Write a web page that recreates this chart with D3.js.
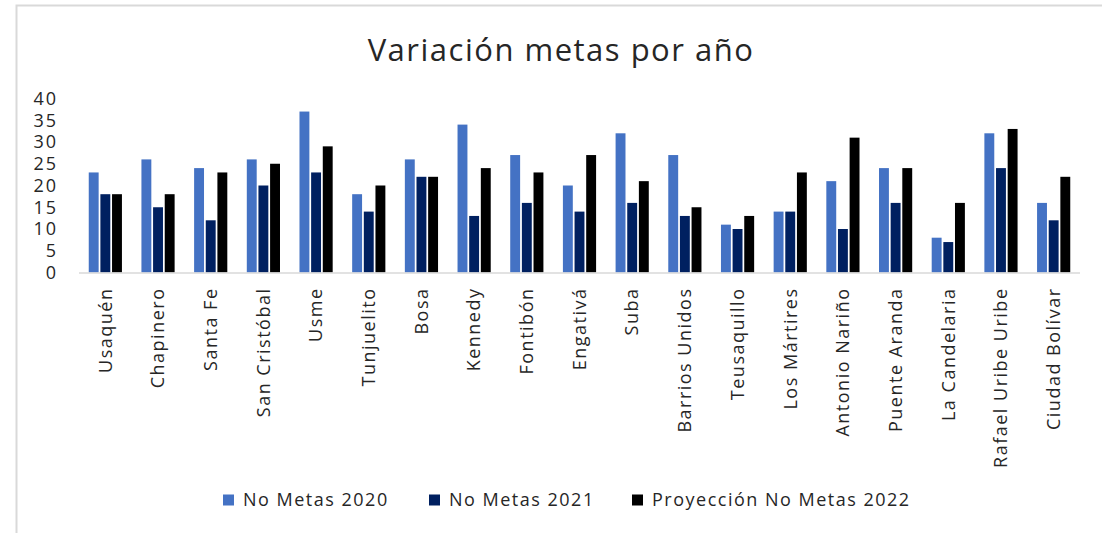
<!DOCTYPE html>
<html>
<head>
<meta charset="utf-8">
<script src="https://cdn.jsdelivr.net/npm/d3@7"></script>
<style>
  html, body { margin: 0; padding: 0; background: #fff; }
  svg text { font-family: "Open Sans", "Noto Sans", sans-serif; fill: #262626; }
</style>
</head>
<body>
<svg id="chart" width="1102" height="533"></svg>
<script>
// Localidades
const categories = [
  "Usaquén", "Chapinero", "Santa Fe", "San Cristóbal", "Usme", "Tunjuelito",
  "Bosa", "Kennedy", "Fontibón", "Engativá", "Suba", "Barrios Unidos",
  "Teusaquillo", "Los Mártires", "Antonio Nariño", "Puente Aranda",
  "La Candelaria", "Rafael Uribe Uribe", "Ciudad Bolívar"
];
const seriesNames = ["No Metas 2020", "No Metas 2021", "Proyección No Metas 2022"];
const metas2020 = [23, 26, 24, 26, 37, 18, 26, 34, 27, 20, 32, 27, 11, 14, 21, 24, 8, 32, 16];
const metas2021 = [18, 15, 12, 20, 23, 14, 22, 13, 16, 14, 16, 13, 10, 14, 10, 16, 7, 24, 12];
const metas2022 = [18, 18, 23, 25, 29, 20, 22, 24, 23, 27, 21, 15, 13, 23, 31, 24, 16, 33, 22];
const yTicks = [0, 5, 10, 15, 20, 25, 30, 35, 40];
const colors = ["#4472c4", "#002060", "#000000"];

const series = [metas2020, metas2021, metas2022];
const svg = d3.select("#chart");

// chart frame
svg.append("rect")
  .attr("x", 16.5).attr("y", 5.5)
  .attr("width", 1200).attr("height", 600)
  .attr("fill", "none").attr("stroke", "#d9d9d9").attr("stroke-width", 2);

// title
svg.append("text")
  .attr("x", 561).attr("y", 61)
  .attr("text-anchor", "middle")
  .style("font-size", "31px")
  .style("letter-spacing", "1.5px")
  .text("Variación metas por año");

const plot = { left: 79, right: 1080, top: 98.5, bottom: 272.5 };

const x0 = d3.scaleBand().domain(categories)
  .range([plot.left, plot.right]).paddingInner(0.37).paddingOuter(0.185);
const x1 = d3.scaleBand().domain(d3.range(series.length))
  .range([0, x0.bandwidth()]).paddingInner(0.15);
const y = d3.scaleLinear().domain([0, 40]).range([plot.bottom, plot.top]);

// bars
const groups = svg.append("g").selectAll("g")
  .data(categories)
  .join("g")
  .attr("transform", d => `translate(${x0(d)},0)`);

groups.selectAll("rect")
  .data((d, i) => series.map((s, k) => ({ k, v: s[i] })))
  .join("rect")
  .attr("x", d => x1(d.k))
  .attr("width", x1.bandwidth())
  .attr("y", d => y(d.v))
  .attr("height", d => y(0) - y(d.v))
  .attr("fill", d => colors[d.k]);

// baseline
svg.append("line")
  .attr("x1", plot.left).attr("x2", plot.right)
  .attr("y1", y(0) + 0.5).attr("y2", y(0) + 0.5)
  .attr("stroke", "#d9d9d9").attr("stroke-width", 1.5);

// y axis labels
const yAxis = d3.axisLeft(y).tickValues(yTicks).tickSize(0).tickPadding(21);
const gy = svg.append("g").attr("transform", `translate(${plot.left},0)`).call(yAxis);
gy.select(".domain").remove();
gy.selectAll("text")
  .style("font-size", "18px").style("font-family", null).style("letter-spacing", "2px")
  .attr("fill", "#262626");

// x axis labels, rotated
const xAxis = d3.axisBottom(x0).tickSize(0).tickPadding(0);
const gx = svg.append("g").attr("transform", `translate(0,${plot.bottom})`).call(xAxis);
gx.select(".domain").remove();
gx.selectAll("text")
  .style("font-size", "18px").style("font-family", null).style("letter-spacing", "1.5px")
  .attr("fill", "#262626")
  .attr("text-anchor", "end")
  .attr("transform", "rotate(-90)")
  .attr("x", -15).attr("y", 0).attr("dy", "0.35em");

// legend
const legendX = [223, 429, 632];
const legend = svg.append("g").selectAll("g")
  .data(seriesNames)
  .join("g")
  .attr("transform", (d, i) => `translate(${legendX[i]},500)`);
legend.append("rect")
  .attr("x", 0).attr("y", -5.5).attr("width", 11).attr("height", 11)
  .attr("fill", (d, i) => colors[i]);
legend.append("text")
  .attr("x", 20).attr("y", 0).attr("dy", "0.35em")
  .style("font-size", "18px")
  .style("letter-spacing", "1.5px")
  .text(d => d);
</script>
</body>
</html>
